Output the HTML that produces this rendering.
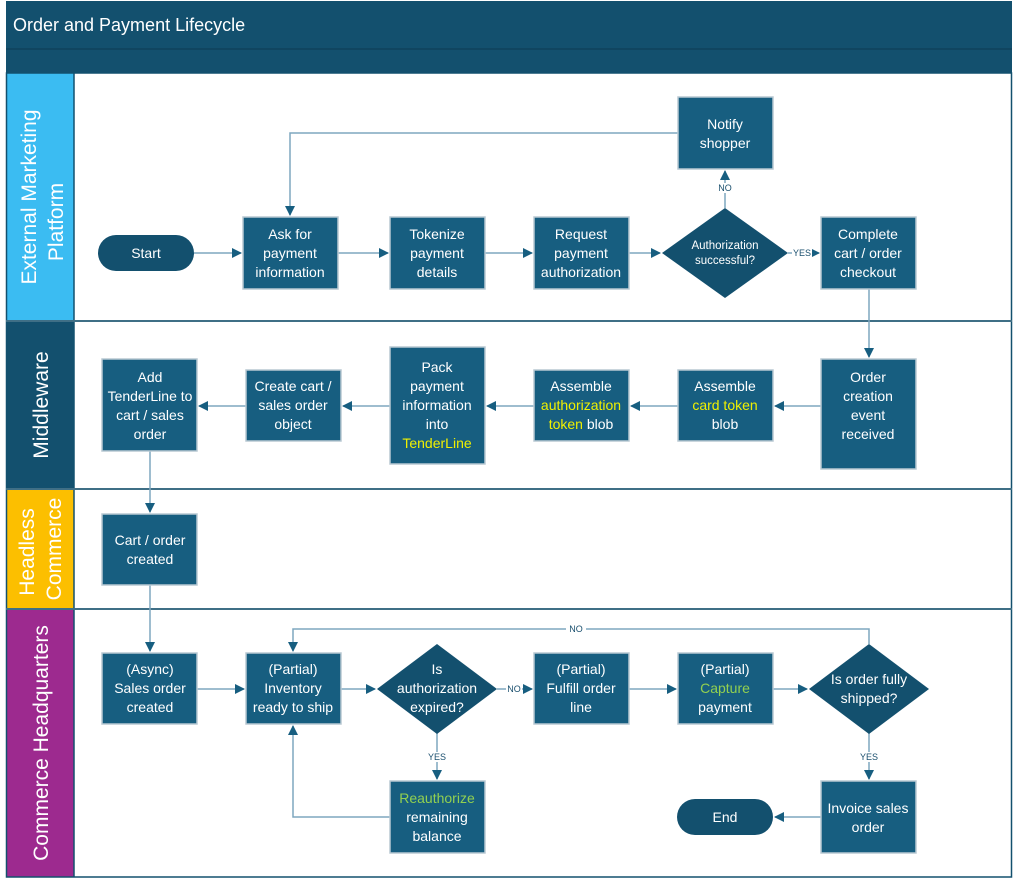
<!DOCTYPE html>
<html><head><meta charset="utf-8"><style>
html,body{margin:0;padding:0;background:#fff}
svg{display:block}
text{font-family:"Liberation Sans",sans-serif;fill:#fff}
.t{font-size:14px;text-anchor:middle}
.s{font-size:11.5px;text-anchor:middle}
.lab{font-size:9px;fill:#1a4f6e;text-anchor:middle}
.y{fill:#f0f000}
.g{fill:#92d050}
.ln{stroke:#7ea7bf;stroke-width:1.5;fill:none}
.bx{fill:#175e80;stroke:#b8c8d2;stroke-width:1.5}
.dm{fill:#13506e}
</style></head><body>
<svg width="1014" height="879" viewBox="0 0 1014 879" xmlns="http://www.w3.org/2000/svg">
<defs><marker id="a" markerWidth="10" markerHeight="10" refX="9" refY="5" orient="auto" markerUnits="userSpaceOnUse"><path d="M0,0 L10,5 L0,10z" fill="#175e80"/></marker></defs>
<rect x="6" y="1" width="1006" height="72" fill="#13506e"/>
<line x1="6" y1="49" x2="1012" y2="49" stroke="#0c3a52" stroke-width="1"/>
<text x="13" y="31" style="font-size:18px">Order and Payment Lifecycle</text>
<rect x="6" y="73" width="68" height="248" fill="#3bbcf2"/>
<rect x="6" y="321" width="68" height="168" fill="#13506e"/>
<rect x="6" y="489" width="68" height="120" fill="#fcbf00"/>
<rect x="6" y="609" width="68" height="268" fill="#9d2a8f"/>
<rect x="6.5" y="73" width="1005" height="804" fill="none" stroke="#13506e" stroke-width="1.5"/>
<line x1="74" y1="73" x2="74" y2="877" stroke="#13506e" stroke-width="1.5"/>
<g stroke="#3f6f86" stroke-width="2"><line x1="6" y1="321" x2="1012" y2="321"/><line x1="6" y1="489" x2="1012" y2="489"/><line x1="6" y1="609" x2="1012" y2="609"/></g>
<g style="font-size:21px" text-anchor="middle">
<text transform="translate(36,197) rotate(-90)">External Marketing</text>
<text transform="translate(63,222) rotate(-90)">Platform</text>
<text transform="translate(48,405) rotate(-90)">Middleware</text>
<text transform="translate(34,552) rotate(-90)">Headless</text>
<text transform="translate(61,549) rotate(-90)">Commerce</text>
<text transform="translate(48,743) rotate(-90)">Commerce Headquarters</text>
</g>
<!-- connectors -->
<g class="ln" marker-end="url(#a)">
<path d="M194 253H241"/><path d="M338 253H388"/><path d="M485 253H532"/><path d="M629 253H660"/>
<path d="M725 208V171"/><path d="M678 133H290V215"/><path d="M788 253H819"/>
<path d="M869 289V357"/><path d="M821 406H775"/><path d="M678 406H631"/><path d="M534 406H487"/>
<path d="M390 406H343"/><path d="M246 406H199"/><path d="M150 451V512"/><path d="M150 585V651"/>
<path d="M197 689H244"/><path d="M341 689H375"/><path d="M497 689H532"/><path d="M629 689H676"/>
<path d="M773 689H807"/><path d="M869 644V629H293V651"/><path d="M437 733V779"/>
<path d="M390 817H293V726"/><path d="M869 733V779"/><path d="M821 817H775"/>
</g>
<g><rect x="717" y="183" width="16" height="10" fill="#fff"/><text class="lab" x="725" y="191">NO</text>
<rect x="792" y="248" width="20" height="10" fill="#fff"/><text class="lab" x="802" y="256">YES</text>
<rect x="566" y="624" width="20" height="10" fill="#fff"/><text class="lab" x="576" y="632">NO</text>
<rect x="506" y="684" width="16" height="10" fill="#fff"/><text class="lab" x="514" y="692">NO</text>
<rect x="427" y="752" width="20" height="10" fill="#fff"/><text class="lab" x="437" y="760">YES</text>
<rect x="859" y="752" width="20" height="10" fill="#fff"/><text class="lab" x="869" y="760">YES</text></g>
<!-- nodes -->
<rect x="98" y="235" width="96" height="36" rx="18" fill="#13506e"/><text class="t" x="146" y="258">Start</text>
<rect class="bx" x="243" y="217" width="95" height="72"/><text class="t" x="290" y="239">Ask for<tspan x="290" dy="19">payment</tspan><tspan x="290" dy="19">information</tspan></text>
<rect class="bx" x="390" y="217" width="95" height="72"/><text class="t" x="437" y="239">Tokenize<tspan x="437" dy="19">payment</tspan><tspan x="437" dy="19">details</tspan></text>
<rect class="bx" x="534" y="217" width="95" height="72"/><text class="t" x="581" y="239">Request<tspan x="581" dy="19">payment</tspan><tspan x="581" dy="19">authorization</tspan></text>
<path class="dm" d="M725 208L788 253L725 298L662 253Z"/><text class="s" x="725" y="249">Authorization<tspan x="725" dy="15">successful?</tspan></text>
<rect class="bx" x="678" y="97" width="95" height="72"/><text class="t" x="725" y="129">Notify<tspan x="725" dy="19">shopper</tspan></text>
<rect class="bx" x="821" y="217" width="95" height="72"/><text class="t" x="868" y="239">Complete<tspan x="868" dy="19">cart / order</tspan><tspan x="868" dy="19">checkout</tspan></text>
<rect class="bx" x="821" y="359" width="95" height="110"/><text class="t" x="868" y="382">Order<tspan x="868" dy="19">creation</tspan><tspan x="868" dy="19">event</tspan><tspan x="868" dy="19">received</tspan></text>
<rect class="bx" x="678" y="370" width="95" height="71"/><text class="t" x="725" y="391">Assemble<tspan x="725" dy="19" class="y">card token</tspan><tspan x="725" dy="19">blob</tspan></text>
<rect class="bx" x="534" y="370" width="95" height="71"/><text class="t" x="581" y="391">Assemble<tspan x="581" dy="19" class="y">authorization</tspan><tspan x="581" dy="19"><tspan class="y">token</tspan> blob</tspan></text>
<rect class="bx" x="390" y="347" width="95" height="117"/><text class="t" x="437" y="372">Pack<tspan x="437" dy="19">payment</tspan><tspan x="437" dy="19">information</tspan><tspan x="437" dy="19">into</tspan><tspan x="437" dy="19" class="y">TenderLine</tspan></text>
<rect class="bx" x="246" y="370" width="95" height="71"/><text class="t" x="293" y="391">Create cart /<tspan x="293" dy="19">sales order</tspan><tspan x="293" dy="19">object</tspan></text>
<rect class="bx" x="102" y="359" width="95" height="92"/><text class="t" x="150" y="382">Add<tspan x="150" dy="19">TenderLine to</tspan><tspan x="150" dy="19">cart / sales</tspan><tspan x="150" dy="19">order</tspan></text>
<rect class="bx" x="102" y="514" width="95" height="71"/><text class="t" x="150" y="545">Cart / order<tspan x="150" dy="19">created</tspan></text>
<rect class="bx" x="102" y="653" width="95" height="71"/><text class="t" x="150" y="674">(Async)<tspan x="150" dy="19">Sales order</tspan><tspan x="150" dy="19">created</tspan></text>
<rect class="bx" x="246" y="653" width="95" height="71"/><text class="t" x="293" y="674">(Partial)<tspan x="293" dy="19">Inventory</tspan><tspan x="293" dy="19">ready to ship</tspan></text>
<path class="dm" d="M437 644L497 689L437 734L377 689Z"/><text class="t" x="437" y="674">Is<tspan x="437" dy="19">authorization</tspan><tspan x="437" dy="19">expired?</tspan></text>
<rect class="bx" x="534" y="653" width="95" height="71"/><text class="t" x="581" y="674">(Partial)<tspan x="581" dy="19">Fulfill order</tspan><tspan x="581" dy="19">line</tspan></text>
<rect class="bx" x="678" y="653" width="95" height="71"/><text class="t" x="725" y="674">(Partial)<tspan x="725" dy="19" class="g">Capture</tspan><tspan x="725" dy="19">payment</tspan></text>
<path class="dm" d="M869 644L929 689L869 734L809 689Z"/><text class="t" x="869" y="684">Is order fully<tspan x="869" dy="19">shipped?</tspan></text>
<rect class="bx" x="390" y="781" width="95" height="72"/><text class="t" x="437" y="803"><tspan class="g">Reauthorize</tspan><tspan x="437" dy="19">remaining</tspan><tspan x="437" dy="19">balance</tspan></text>
<rect class="bx" x="821" y="781" width="95" height="72"/><text class="t" x="868" y="813">Invoice sales<tspan x="868" dy="19">order</tspan></text>
<rect x="677" y="799" width="96" height="36" rx="18" fill="#13506e"/><text class="t" x="725" y="822">End</text>
</svg>
</body></html>
